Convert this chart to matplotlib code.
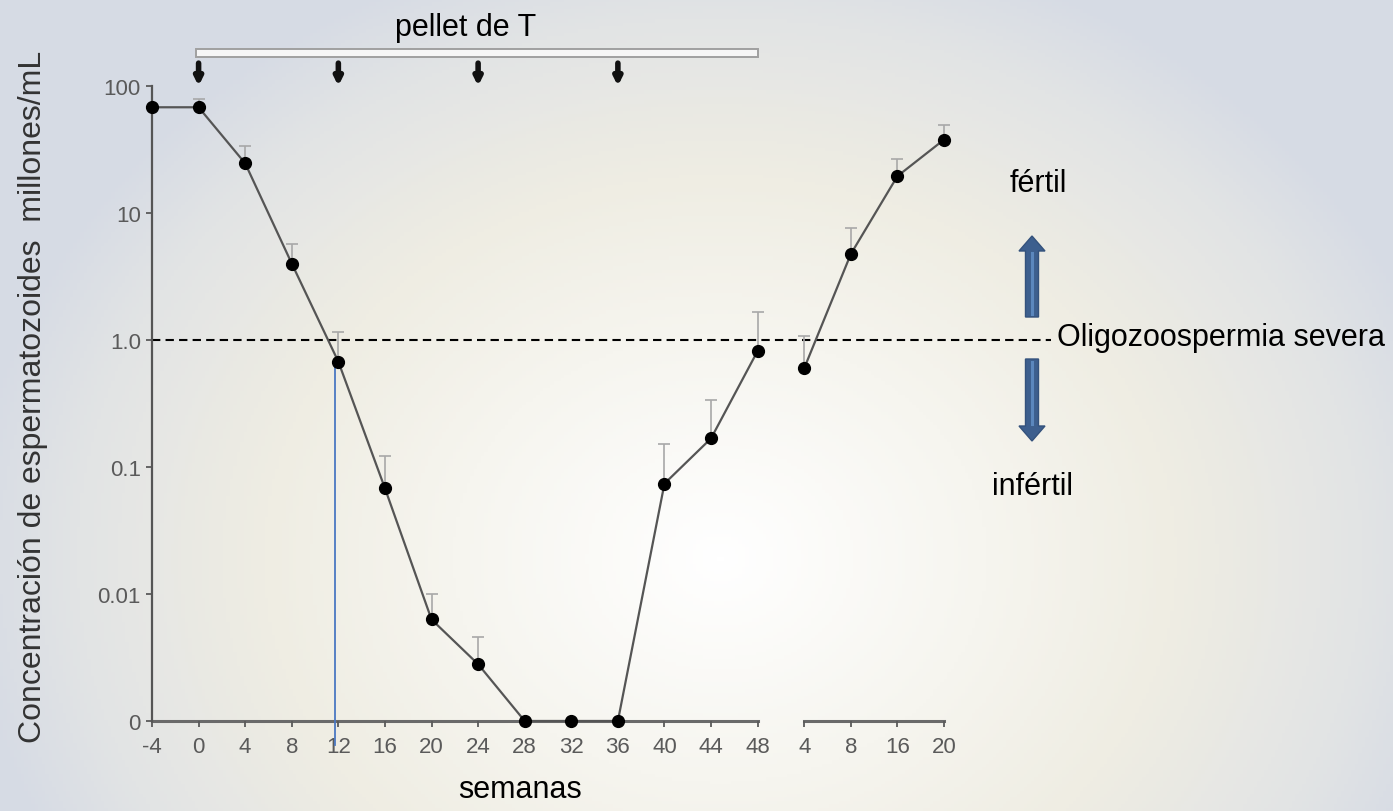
import numpy as np
import matplotlib
matplotlib.use("Agg")
import matplotlib.pyplot as plt
from matplotlib.colors import LinearSegmentedColormap
from matplotlib.patches import Rectangle, FancyArrow

plt.rcParams['font.family'] = ['Liberation Sans', 'DejaVu Sans']

# semanas de tratamiento y de recuperación
weeks_tx = ['-4', '0', '4', '8', '12', '16', '20', '24', '28', '32', '36', '40', '44', '48']
weeks_rec = ['4', '8', '16', '20']
conc_tx = [68, 68, 24.6, 4.0, 0.675, 0.068, 0.0063, 0.0028, 0.001, 0.001, 0.001, 0.074, 0.168, 0.82]
upper_tx = [68, 79, 33.9, 5.7, 1.16, 0.123, 0.010, 0.0046, 0.001, 0.001, 0.001, 0.152, 0.337, 1.67]
conc_rec = [0.60, 4.75, 19.5, 37.8]
upper_rec = [1.07, 7.6, 26.6, 49]
pellet_weeks = ['0', '12', '24', '36']
threshold = 1.0

yticks = [1e-3, 1e-2, 0.1, 1.0, 10, 100]
ytick_labels = ['0', '0.01', '0.1', '1.0', '10', '100']

W, H = 1393, 812
fig = plt.figure(figsize=(W / 100, H / 100), dpi=100)

# fondo con degradado
bg = fig.add_axes([0, 0, 1, 1], zorder=-2)
gx, gy = np.meshgrid(np.linspace(0, W, 400), np.linspace(0, H, 240))
d = np.sqrt(((gx - 720) / 760) ** 2 + ((gy - 560) / 640) ** 2)
cmap = LinearSegmentedColormap.from_list(
    'bgc', [(0, '#ffffff'), (0.35, '#f6f5ef'), (0.6, '#efede3'), (0.85, '#e2e4e5'), (1.0, '#d6dbe4')])
bg.imshow(np.clip(d, 0, 1), cmap=cmap, vmin=0, vmax=1, extent=[0, W, H, 0], aspect='auto')
bg.axis('off')

ax = fig.add_axes([152 / W, (H - 722) / H, (944 - 152) / W, 635 / H])
ax.patch.set_alpha(0)
ax.set_yscale('log')

x_tx = np.arange(len(weeks_tx))
x_rec = np.arange(len(weeks_rec)) + len(weeks_tx)
c_tx = np.array(conc_tx)
c_rec = np.array(conc_rec)

for xs, c, up in [(x_tx, c_tx, np.array(upper_tx)), (x_rec, c_rec, np.array(upper_rec))]:
    err = np.vstack([np.zeros_like(c), up - c])
    ax.errorbar(xs, c, yerr=err, fmt='none', ecolor='#a8a8a8', elinewidth=1.2,
                capsize=4, capthick=1.2, zorder=3, clip_on=False)
    ax.plot(xs, c, '-', color='#555555', lw=1.6, zorder=4, clip_on=False)
    ax.plot(xs, c, 'o', color='black', ms=8.5, zorder=5, clip_on=False)

# umbral de oligozoospermia severa
ax.plot([0, 19.3], [threshold, threshold], '--', color='black', lw=1.5,
        dashes=(4, 2.5), clip_on=False, zorder=2)

# línea vertical en la semana 12
i12 = weeks_tx.index('12')
ax.plot([i12 - 0.08, i12 - 0.08], [conc_tx[i12], 6.5e-4], color='#4a78c2', lw=1.3,
        clip_on=False, zorder=2)

ax.set_xlim(0, len(weeks_tx) + len(weeks_rec) - 1)
ax.set_ylim(1e-3, 100)
ax.set_yticks(yticks)
ax.set_yticklabels(ytick_labels)
ax.yaxis.set_minor_locator(matplotlib.ticker.NullLocator())
ax.set_xticks(np.concatenate([x_tx, x_rec]))
ax.set_xticklabels(weeks_tx + weeks_rec)
ax.tick_params(colors='#5a5a5a', labelsize=16, length=4, width=1.3, pad=7)
ax.tick_params(axis='y', pad=4)

for s in ['top', 'right', 'bottom']:
    ax.spines[s].set_visible(False)
ax.spines['left'].set_color('#555555')
ax.spines['left'].set_linewidth(1.6)

# eje x partido en dos tramos
ax.plot([x_tx[0], x_tx[-1]], [1e-3, 1e-3], color='#6a6a6a', lw=2.2, clip_on=False, zorder=1)
ax.plot([x_rec[0], x_rec[-1]], [1e-3, 1e-3], color='#6a6a6a', lw=2.2, clip_on=False, zorder=1)

# barra de pellet de T y flechas de implante
xt = ax.get_xaxis_transform()
i0 = weeks_tx.index('0')
ax.add_patch(Rectangle((i0 - 0.05, 1.046), x_tx[-1] - i0 + 0.05, 0.012, transform=xt,
                       facecolor='#f6f6f6', edgecolor='#a0a0a0', lw=1.4, clip_on=False))
for w in pellet_weeks:
    xi = weeks_tx.index(w)
    ax.annotate('', xy=(xi, 1.0), xytext=(xi, 1.036), xycoords=xt, textcoords=xt,
                arrowprops=dict(arrowstyle='-|>', color='#111111', lw=4.0, mutation_scale=11,
                                shrinkA=0, shrinkB=0), annotation_clip=False)

ov = fig.add_axes([0, 0, 1, 1], zorder=5)
ov.set_xlim(0, W)
ov.set_ylim(H, 0)
ov.axis('off')
ov.patch.set_alpha(0)

txt = dict(color='black', fontsize=22)
ov.text(466, 28, 'pellet de T', ha='center', va='center', **txt)
ov.text(520, 790, 'semanas', ha='center', va='center', **txt)
ov.text(33, 397, 'Concentración de espermatozoides  millones/mL', rotation=90,
        ha='center', va='center', color='#333333', fontsize=23)
ov.text(1057, 338, 'Oligozoospermia severa', ha='left', va='center', **txt)
ov.text(1038, 184, 'fértil', ha='center', va='center', **txt)
ov.text(1032, 487, 'infértil', ha='center', va='center', **txt)

# flechas azules
for y0, dy in [(318, -81), (360, 82)]:
    ov.add_patch(FancyArrow(1032, y0, 0, dy, width=13, head_width=26, head_length=15,
                            length_includes_head=True, facecolor='#3d5f8e',
                            edgecolor='#34527c', lw=1))
    ov.plot([1032, 1032], [y0 + np.sign(dy) * 3, y0 + dy - np.sign(dy) * 17],
            color='#5b87bd', lw=2.2)

fig.savefig('out.png', dpi=100)
